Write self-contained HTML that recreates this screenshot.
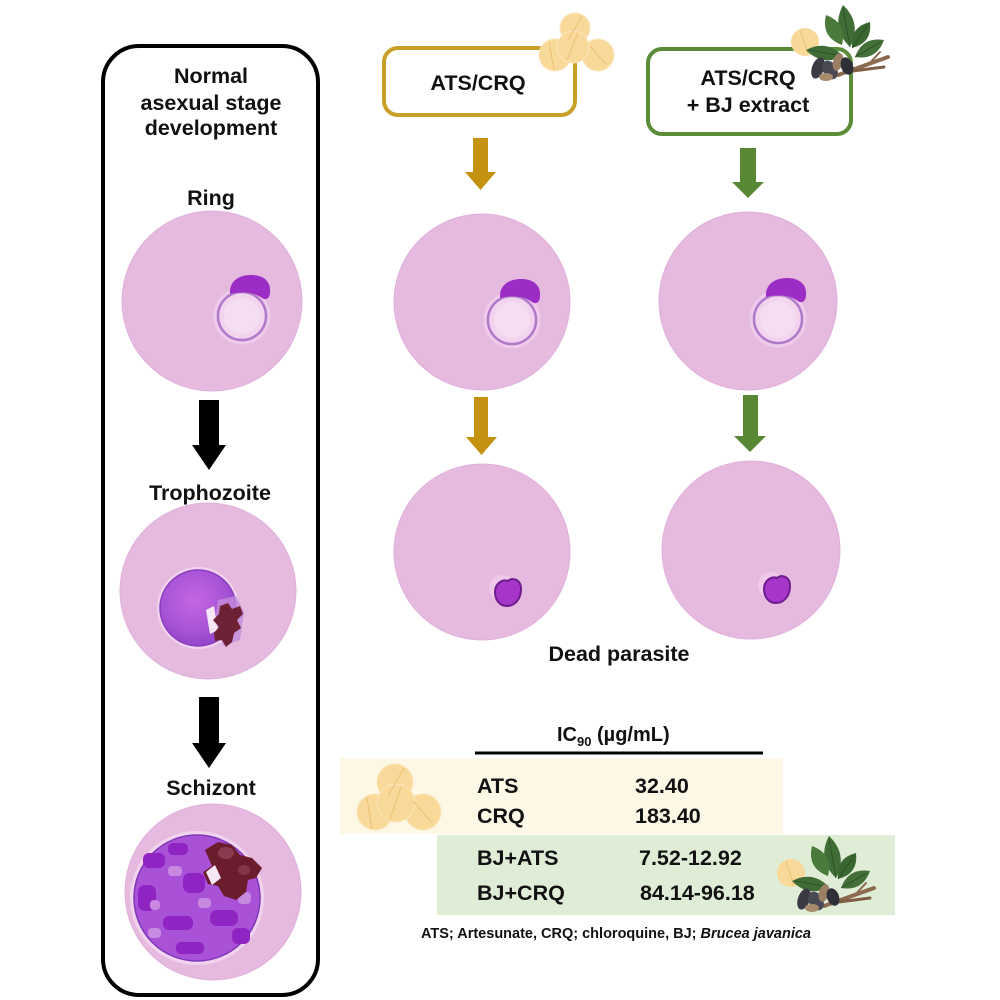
<!DOCTYPE html>
<html>
<head>
<meta charset="utf-8">
<style>
  html,body{margin:0;padding:0;background:#fff;}
  svg{display:block;}
  text{font-family:"Liberation Sans",Arial,sans-serif;font-weight:bold;fill:#111;}
</style>
</head>
<body>
<svg width="1000" height="1000" viewBox="0 0 1000 1000" xmlns="http://www.w3.org/2000/svg">
  <defs>
    <radialGradient id="tg" cx="0.45" cy="0.4" r="0.6">
      <stop offset="0" stop-color="#C566E2"/>
      <stop offset="0.7" stop-color="#A653D6"/>
      <stop offset="1" stop-color="#9445C8"/>
    </radialGradient>
    <g id="ring">
      <circle r="27" fill="none" stroke="#EECBEA" stroke-width="3"/>
      <circle r="24" fill="#F2D4EE" stroke="#B07ACB" stroke-width="2.5"/>
      <circle r="18" fill="#F6DEF2"/>
      <path d="M-12,-22 C-13,-34 -4,-41 9,-41 C21,-41 29,-35 28,-24 C28,-18 24,-15 20,-18 C12,-24 0,-25 -12,-22 Z" fill="#9B2CC5"/>
    </g>
    <g id="plant">
      <circle cx="805" cy="42" r="14" fill="#F9D999"/>
      <line x1="800" y1="30" x2="808" y2="54" stroke="#EEC277" stroke-width="1"/>
      <line x1="838" y1="75" x2="888" y2="57" stroke="#8C6A50" stroke-width="4" stroke-linecap="round"/>
      <line x1="845" y1="72" x2="884" y2="67" stroke="#7E5E46" stroke-width="3" stroke-linecap="round"/>
      <line x1="868" y1="65" x2="880" y2="52" stroke="#8C6A50" stroke-width="2" stroke-linecap="round"/>
      <path d="M850,47 Q862.3,23.4 843,5 Q830.7,28.6 850,47 Z" fill="#3F6D35"/>
      <path d="M842,45 Q847.2,22.9 826,15 Q820.8,37.1 842,45 Z" fill="#4A7A3C"/>
      <path d="M852,48 Q872.5,43 870,22 Q849.5,27 852,48 Z" fill="#3A6632"/>
      <path d="M855,57 Q876.6,60.6 884,40 Q862.4,36.4 855,57 Z" fill="#446F38"/>
      <path d="M843,56 Q826.7,39.2 806,50 Q822.3,66.8 843,56 Z" fill="#3F6B35"/>
      <line x1="850" y1="47" x2="843" y2="8" stroke="#2B4D24" stroke-width="0.8"/>
      <line x1="852" y1="48" x2="868" y2="25" stroke="#2B4D24" stroke-width="0.8"/>
      <line x1="855" y1="57" x2="881" y2="42" stroke="#2B4D24" stroke-width="0.8"/>
      <line x1="843" y1="56" x2="809" y2="50" stroke="#2B4D24" stroke-width="0.8"/>
      <ellipse cx="818" cy="68" rx="6" ry="11" transform="rotate(20 818 68)" fill="#3A3A44"/>
      <ellipse cx="830" cy="70" rx="7" ry="10" transform="rotate(-30 830 70)" fill="#4A4A55"/>
      <ellipse cx="838" cy="62" rx="5" ry="9" transform="rotate(15 838 62)" fill="#9C8066"/>
      <ellipse cx="847" cy="66" rx="6" ry="9" transform="rotate(-20 847 66)" fill="#2F2F38"/>
      <ellipse cx="826" cy="77" rx="7" ry="4" fill="#A58A6C"/>
    </g>
  </defs>

  <!-- Left box -->
  <rect x="103" y="46" width="215" height="949" rx="36" ry="36" fill="none" stroke="#000" stroke-width="4"/>
  <text x="211" y="83" font-size="21.5" text-anchor="middle">Normal</text>
  <text x="211" y="110" font-size="21.5" text-anchor="middle">asexual stage</text>
  <text x="211" y="135" font-size="21.5" text-anchor="middle">development</text>
  <text x="211" y="205" font-size="21.5" text-anchor="middle">Ring</text>

  <!-- Ring cell left -->
  <circle cx="212" cy="301" r="90" fill="#E6B9DF" stroke="#E0B0DA" stroke-width="1"/>
  <use href="#ring" transform="translate(242 316)"/>

  <!-- Black arrow 1 -->
  <rect x="199" y="400" width="20" height="47" fill="#000"/>
  <polygon points="192,445 226,445 209,470" fill="#000"/>
  <text x="210" y="500" font-size="21.5" text-anchor="middle">Trophozoite</text>

  <!-- Trophozoite cell -->
  <circle cx="208" cy="591" r="88" fill="#E6B9DF" stroke="#E0B0DA" stroke-width="1"/>
  <circle cx="198" cy="608" r="41" fill="#F1D3EE"/>
  <circle cx="198" cy="608" r="38" fill="url(#tg)" stroke="#8A3EBF" stroke-width="1.5"/>
  <path d="M218,600 L236,596 L244,612 L240,640 L224,646 L214,628 Z" fill="#C48CD9" opacity="0.8"/>
  <path d="M206,610 L214,606 L218,630 L210,634 Z" fill="#F8E8F5"/>
  <path d="M220,606 L228,603 L232,609 L240,606 L243,614 L237,620 L241,628 L234,633 L232,642 L226,647 L222,640 L215,641 L214,633 L219,627 L213,620 L219,614 Z" fill="#6E2034"/>

  <!-- Black arrow 2 -->
  <rect x="199" y="697" width="20" height="48" fill="#000"/>
  <polygon points="192,743 226,743 209,768" fill="#000"/>
  <text x="211" y="795" font-size="21.5" text-anchor="middle">Schizont</text>

  <!-- Schizont cell -->
  <circle cx="213" cy="892" r="88" fill="#E6B9DF" stroke="#E0B0DA" stroke-width="1"/>
  <circle cx="197" cy="898" r="67" fill="#F1D3EE"/>
  <circle cx="197" cy="898" r="63" fill="#A951D7" stroke="#8039B8" stroke-width="1.5"/>
  <g fill="#9024C3">
    <rect x="143" y="853" width="22" height="15" rx="6"/>
    <rect x="138" y="885" width="18" height="26" rx="7"/>
    <rect x="163" y="916" width="30" height="14" rx="6"/>
    <rect x="183" y="873" width="22" height="20" rx="7"/>
    <rect x="210" y="910" width="28" height="16" rx="7"/>
    <rect x="232" y="928" width="18" height="16" rx="6"/>
    <rect x="176" y="942" width="28" height="12" rx="5"/>
    <rect x="168" y="843" width="20" height="12" rx="5"/>
  </g>
  <g fill="#C889E0">
    <rect x="168" y="866" width="14" height="10" rx="4"/>
    <rect x="198" y="898" width="13" height="10" rx="4"/>
    <rect x="148" y="928" width="13" height="10" rx="4"/>
    <rect x="238" y="892" width="13" height="12" rx="4"/>
    <rect x="150" y="900" width="10" height="10" rx="4"/>
  </g>
  <path d="M205,850 L218,842 L232,845 L240,855 L252,858 L262,868 L256,878 L248,880 L246,892 L236,900 L224,896 L218,886 L208,884 L203,872 L212,866 Z" fill="#6B1D2E"/>
  <ellipse cx="226" cy="853" rx="8" ry="6" fill="#8B3A50"/>
  <ellipse cx="244" cy="870" rx="6" ry="5" fill="#843548"/>
  <path d="M206,872 L215,865 L221,878 L212,885 Z" fill="#F6E6F3"/>

  <!-- Gold box -->
  <rect x="384" y="48" width="191" height="67" rx="14" fill="#fff" stroke="#C9A027" stroke-width="4"/>
  <text x="478" y="90" font-size="21.5" text-anchor="middle">ATS/CRQ</text>
  <!-- header pills -->
  <g stroke="#FBE6BC" stroke-width="1">
    <circle cx="575" cy="28" r="15" fill="#F9D999"/>
    <circle cx="555" cy="55" r="16" fill="#F9D999"/>
    <circle cx="598" cy="55" r="16" fill="#F9D999"/>
    <circle cx="573" cy="47" r="16" fill="#F9D999"/>
  </g>
  <g stroke="#EEC277" stroke-width="1.1">
    <line x1="568" y1="40" x2="582" y2="16"/>
    <line x1="549" y1="42" x2="554" y2="70"/>
    <line x1="590" y1="46" x2="606" y2="64"/>
    <line x1="567" y1="60" x2="578" y2="33"/>
  </g>

  <!-- Green box -->
  <rect x="648" y="49" width="203" height="85" rx="14" fill="#fff" stroke="#5A8C39" stroke-width="4"/>
  <text x="748" y="85" font-size="21.5" text-anchor="middle">ATS/CRQ</text>
  <text x="748" y="112" font-size="21.5" text-anchor="middle">+ BJ extract</text>
  <use href="#plant"/>

  <!-- Gold arrows -->
  <rect x="473" y="138" width="15" height="35" fill="#C49210"/>
  <polygon points="465,172 496,172 480.5,190" fill="#C49210"/>
  <rect x="474" y="397" width="14" height="41" fill="#C49210"/>
  <polygon points="466,437 497,437 481.5,455" fill="#C49210"/>
  <!-- Green arrows -->
  <rect x="740" y="148" width="16" height="35" fill="#588736"/>
  <polygon points="732,182 764,182 748,198" fill="#588736"/>
  <rect x="743" y="395" width="15" height="42" fill="#588736"/>
  <polygon points="734,436 766,436 750,452" fill="#588736"/>

  <!-- Row 1 cells -->
  <circle cx="482" cy="302" r="88" fill="#E6B9DF" stroke="#E0B0DA" stroke-width="1"/>
  <use href="#ring" transform="translate(512 320)"/>
  <circle cx="748" cy="301" r="89" fill="#E6B9DF" stroke="#E0B0DA" stroke-width="1"/>
  <use href="#ring" transform="translate(778 319)"/>

  <!-- Row 2 cells -->
  <circle cx="482" cy="552" r="88" fill="#E6B9DF" stroke="#E0B0DA" stroke-width="1"/>
  <circle cx="502" cy="588" r="13" fill="#EFC8EA"/>
  <path d="M508,581 C512,577 521,579 521,589 C521,600 514,606 507,606 C499,606 495,599 495,592 C495,583 503,579 508,581 Z" fill="#A636C9" stroke="#6E1B8E" stroke-width="2"/>
  <circle cx="751" cy="550" r="89" fill="#E6B9DF" stroke="#E0B0DA" stroke-width="1"/>
  <circle cx="771" cy="585" r="13" fill="#EFC8EA"/>
  <path d="M777,578 C781,574 790,576 790,586 C790,597 783,603 776,603 C768,603 764,596 764,589 C764,580 772,576 777,578 Z" fill="#A636C9" stroke="#6E1B8E" stroke-width="2"/>
  <text x="619" y="661" font-size="21.5" text-anchor="middle">Dead parasite</text>

  <!-- Table -->
  <text x="557" y="741" font-size="20">IC<tspan font-size="13" dy="5">90</tspan><tspan dy="-5"> (µg/mL)</tspan></text>
  <line x1="475" y1="753" x2="763" y2="753" stroke="#000" stroke-width="3"/>
  <rect x="340" y="758" width="443" height="76" fill="#FDF7E6"/>
  <rect x="437" y="835" width="458" height="80" fill="#DFEDD6"/>
  <g stroke="#FBE6BC" stroke-width="1">
    <circle cx="395" cy="782" r="18" fill="#F9D999"/>
    <circle cx="375" cy="812" r="18" fill="#F9D999"/>
    <circle cx="423" cy="812" r="18" fill="#F9D999"/>
    <circle cx="396" cy="803" r="19" fill="#F9D999"/>
  </g>
  <g stroke="#EEC277" stroke-width="1.1">
    <line x1="388" y1="796" x2="404" y2="768"/>
    <line x1="367" y1="798" x2="372" y2="829"/>
    <line x1="413" y1="801" x2="432" y2="823"/>
    <line x1="390" y1="820" x2="401" y2="787"/>
  </g>
  <use href="#plant" transform="translate(-14 831)"/>

  <text x="477" y="793" font-size="21.5">ATS</text>
  <text x="635" y="793" font-size="21.5">32.40</text>
  <text x="477" y="823" font-size="21.5">CRQ</text>
  <text x="635" y="823" font-size="21.5">183.40</text>
  <text x="477" y="865" font-size="21.5">BJ+ATS</text>
  <text x="639" y="865" font-size="21.5">7.52-12.92</text>
  <text x="477" y="900" font-size="21.5">BJ+CRQ</text>
  <text x="640" y="900" font-size="21.5">84.14-96.18</text>

  <text x="421" y="938" font-size="14.5">ATS; Artesunate, CRQ; chloroquine, BJ; <tspan font-style="italic">Brucea javanica</tspan></text>
</svg>
</body>
</html>
